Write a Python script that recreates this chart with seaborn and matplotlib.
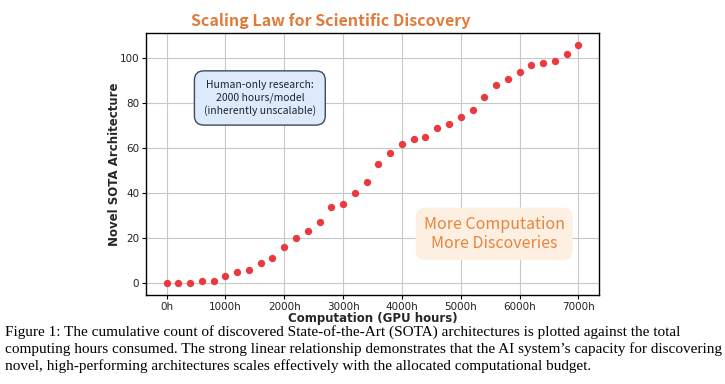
import pandas as pd
import matplotlib.pyplot as plt
import seaborn as sns

# GPU hours and cumulative SOTA architectures
hours = [0, 200, 400, 600, 800, 1000, 1200, 1400, 1600, 1800,
         2000, 2200, 2400, 2600, 2800, 3000, 3200, 3400, 3600, 3800,
         4000, 4200, 4400, 4600, 4800, 5000, 5200, 5400, 5600, 5800,
         6000, 6200, 6400, 6600, 6800, 7000]
sota = [0, 0, 0, 1, 1, 3, 5, 6, 9, 11,
        16, 20, 23, 27, 34, 35, 40, 45, 53, 58,
        62, 64, 65, 69, 71, 74, 77, 83, 88, 91,
        94, 97, 98, 99, 102, 106]
xticks = [0, 1000, 2000, 3000, 4000, 5000, 6000, 7000]
xtick_labels = ['0h', '1000h', '2000h', '3000h', '4000h', '5000h', '6000h', '7000h']
yticks = [0, 20, 40, 60, 80, 100]

title = 'Scaling Law for Scientific Discovery'
human_note = 'Human-only research:\n2000 hours/model\n(inherently unscalable)'
slogan = 'More Computation\nMore Discoveries'
caption = ('Figure 1: The cumulative count of discovered State-of-the-Art (SOTA) architectures is plotted against the total\n'
           'computing hours consumed. The strong linear relationship demonstrates that the AI system\u2019s capacity for discovering\n'
           'novel, high-performing architectures scales effectively with the allocated computational budget.')


def main():
    df = pd.DataFrame({'hours': hours, 'sota': sota})

    sns.set_theme(style='whitegrid')
    plt.rcParams['font.family'] = ['DejaVu Sans']

    fig = plt.figure(figsize=(7.25, 3.84), dpi=100)
    ax = fig.add_axes([0.2014, 0.2318, 0.6248, 0.6823])

    sns.scatterplot(data=df, x='hours', y='sota', ax=ax, color='#eb3a3f',
                    s=28, linewidth=0, zorder=3)

    ax.set_xticks(xticks)
    ax.set_xticklabels(xtick_labels)
    ax.set_yticks(yticks)
    ax.tick_params(axis='both', labelsize=7.5, length=3, width=0.8,
                   color='black', labelcolor='#222222', pad=2)
    ax.tick_params(axis='both', which='both', bottom=True, left=True)
    ax.grid(True, color='#c8c8c8', linewidth=0.8)
    for sp in ax.spines.values():
        sp.set_edgecolor('black')
        sp.set_linewidth(1.0)

    ax.set_xlabel('Computation (GPU hours)', fontsize=8.5, fontweight='bold', labelpad=0)
    ax.set_ylabel('Novel SOTA Architecture', fontsize=8.5, fontweight='bold', labelpad=-1)

    ax.text(1585, 82.4, human_note, ha='center', va='center', fontsize=7.5,
            family=['Noto Sans CJK SC', 'DejaVu Sans'], color='#1e2430', linespacing=1.25,
            bbox=dict(boxstyle='round,pad=0.9,rounding_size=0.9',
                      facecolor='#dceafb', edgecolor='#3f4a60', linewidth=1.0))

    ax.text(5568, 21.9, slogan, ha='center', va='center', fontsize=11.5, fontweight=500,
            family=['Noto Sans CJK SC', 'DejaVu Sans'], color='#e8843c', linespacing=1.2,
            bbox=dict(boxstyle='round,pad=0.5,rounding_size=0.6',
                      facecolor='#fdf0e2', edgecolor='none'))

    fig.text(331 / 725, 1 - 21 / 384, title, ha='center', va='center', fontsize=11.5,
             fontweight='bold', family=['Noto Sans CJK SC', 'DejaVu Sans'], color='#e07b39')

    fig.text(5 / 725, 1 - 325 / 384, caption, ha='left', va='top', fontsize=11,
             family=['Liberation Serif'], color='black', linespacing=1.3)

    plt.savefig('out.png', dpi=100)


if __name__ == "__main__":
    main()
